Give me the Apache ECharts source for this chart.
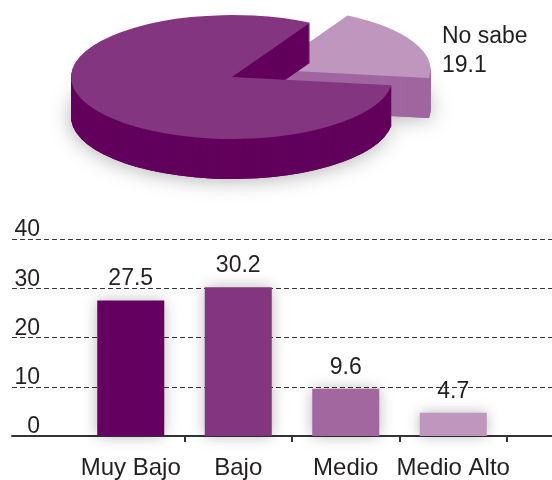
<!DOCTYPE html>
<html>
<head>
<meta charset="utf-8">
<script src="https://cdn.jsdelivr.net/npm/echarts@6/dist/echarts.min.js"></script>
<style>
  html, body { margin: 0; padding: 0; background: #fff; }
  #chart { width: 552px; height: 480px; }
</style>
</head>
<body>
<div id="chart"></div>
<script>
// pie data (top)
var pieNames = ['No sabe', 'Resto'];
var pieValues = [19.1, 80.9];
// bar data (bottom)
var categories = ['Muy Bajo', 'Bajo', 'Medio', 'Medio Alto'];
var barValues = [27.5, 30.2, 9.6, 4.7];
var yTicks = [0, 10, 20, 30, 40];

var barColors = ['#640060', '#84357f', '#a2679f', '#bf97be'];
var pieTop = ['#bf97be', '#84357f'];
var pieSide = ['#a066a0', '#62005c'];
var FONT = 'Liberation Sans, Arial, Helvetica, sans-serif';
var INK = '#231f20';

var chart = echarts.init(document.getElementById('chart'));

// fake 3d pie: flattened sectors stacked to make the side
var total = pieValues.reduce(function (a, b) { return a + b; }, 0);
var START = 61;
var CX = 232, CY = 77, RX = 161, SQ = 0.385, DEPTH = 40, EXPLODE = 42;

function sliceAngles(i) {
  var before = 0;
  for (var k = 0; k < i; k++) before += pieValues[k];
  var a0 = (-START + before / total * 360) * Math.PI / 180;
  var a1 = (-START + (before + pieValues[i]) / total * 360) * Math.PI / 180;
  var off = i === 0 ? EXPLODE : 0;
  var mid = (a0 + a1) / 2;
  return { a0: a0, a1: a1, ox: off * Math.cos(mid), oy: off * Math.sin(mid) };
}

function renderShadow(params, api) {
  var s = sliceAngles(params.dataIndex);
  return {
    type: 'group', x: CX, y: CY, scaleY: SQ,
    children: [{
      type: 'sector',
      shape: { cx: s.ox, cy: s.oy + DEPTH / SQ, r0: 0, r: RX, startAngle: s.a0, endAngle: s.a1, clockwise: true },
      style: { fill: pieSide[params.dataIndex], shadowBlur: 22, shadowColor: 'rgba(0,0,0,0.35)' }
    }]
  };
}

function renderPie(params, api) {
  var i = params.dataIndex;
  var s = sliceAngles(i);
  var layers = [];
  for (var d = DEPTH; d >= 1; d--) {
    layers.push({
      type: 'sector',
      shape: { cx: s.ox, cy: s.oy + d / SQ, r0: 0, r: RX, startAngle: s.a0, endAngle: s.a1, clockwise: true },
      style: { fill: pieSide[i] }
    });
  }
  layers.push({
    type: 'sector',
    shape: { cx: s.ox, cy: s.oy, r0: 0, r: RX, startAngle: s.a0, endAngle: s.a1, clockwise: true },
    style: { fill: pieTop[i] }
  });
  var children = [{ type: 'group', x: CX, y: CY, scaleY: SQ, children: layers }];
  if (i === 0) {
    children.push({
      type: 'text', x: 442, y: 22,
      style: { text: pieNames[i] + '\n' + api.value(0), fontSize: 23, lineHeight: 29, fontFamily: FONT, fill: INK }
    });
  }
  return { type: 'group', children: children };
}

var option = {
  backgroundColor: '#fff',
  animation: false,
  grid: [
    { left: 12, right: 0, top: 239, bottom: 44 },
    { left: 77, right: 45, top: 239, bottom: 44 }
  ],
  xAxis: [
    {
      gridIndex: 0, type: 'value', min: 0, max: 1,
      axisLine: { show: true, lineStyle: { color: '#333', width: 2 } },
      axisTick: { show: false }, axisLabel: { show: false }, splitLine: { show: false }
    },
    {
      gridIndex: 1, type: 'category', data: categories,
      axisLine: { show: false },
      axisTick: { show: true, length: 6, lineStyle: { color: '#333', width: 2 },
        interval: function (idx) { return idx > 0; } },
      axisLabel: { interval: 0, fontSize: 24, color: INK, margin: 20, fontFamily: FONT }
    }
  ],
  yAxis: [
    {
      gridIndex: 0, type: 'value',
      min: yTicks[0], max: yTicks[yTicks.length - 1], interval: yTicks[1] - yTicks[0],
      axisLine: { show: false }, axisTick: { show: false },
      axisLabel: { inside: true, align: 'right', margin: 28, verticalAlign: 'bottom', lineHeight: 18,
        fontSize: 23, color: INK, fontFamily: FONT },
      splitLine: { lineStyle: { color: '#333', type: [5, 3], width: 1 } }
    },
    {
      gridIndex: 1, type: 'value', show: false,
      min: yTicks[0], max: yTicks[yTicks.length - 1], interval: yTicks[1] - yTicks[0]
    }
  ],
  series: [
    {
      type: 'custom', coordinateSystem: 'none', silent: true, z: 1,
      data: pieValues, renderItem: renderShadow
    },
    {
      type: 'custom', coordinateSystem: 'none', silent: true, z: 2,
      data: pieValues, renderItem: renderPie
    },
    {
      type: 'bar', xAxisIndex: 1, yAxisIndex: 1, barWidth: 67,
      data: barValues.map(function (v, i) {
        return { value: v, itemStyle: { color: barColors[i] } };
      }),
      itemStyle: { shadowBlur: 14, shadowColor: 'rgba(0,0,0,0.28)' },
      label: { show: true, position: 'top', distance: 10, fontSize: 23, color: INK, fontFamily: FONT }
    }
  ]
};

chart.setOption(option);
</script>
</body>
</html>
